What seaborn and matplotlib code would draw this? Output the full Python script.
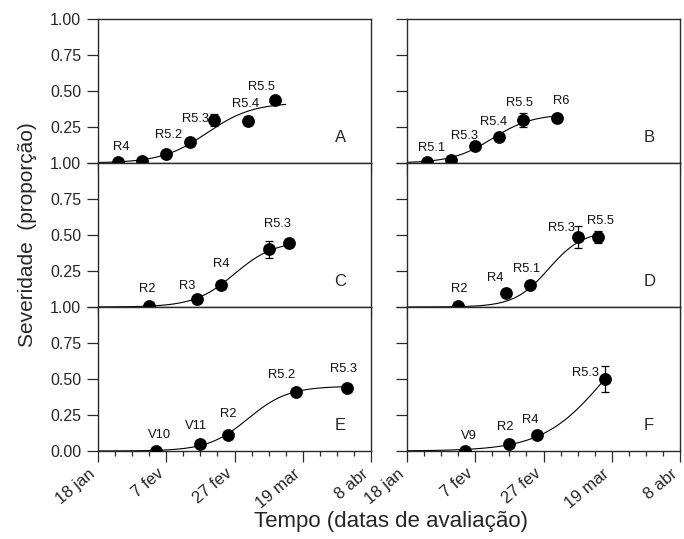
import numpy as np
import pandas as pd
import matplotlib
matplotlib.use("Agg")
import matplotlib.pyplot as plt
import seaborn as sns
from matplotlib.ticker import MultipleLocator

sns.set_style("ticks")
plt.rcParams['font.family'] = ['Liberation Sans', 'DejaVu Sans']

# ---------------- data (days since 18 jan) ----------------
x_tick_labels = ["18 jan", "7 fev", "27 fev", "19 mar", "8 abr"]
y_tick_labels = ["0.00", "0.25", "0.50", "0.75", "1.00"]
panel_letters = ["A", "B", "C", "D", "E", "F"]

days_A = [6, 13, 20, 27, 34, 44, 52]
sev_A = [0.005, 0.012, 0.065, 0.148, 0.297, 0.293, 0.44]
err_A = [0, 0, 0, 0, 0.04, 0.03, 0.01]
stage_A = ["R4", "", "R5.2", "", "R5.3", "R5.4", "R5.5"]

days_B = [6, 13, 20, 27, 34, 44]
sev_B = [0.005, 0.023, 0.116, 0.18, 0.30, 0.314]
err_B = [0, 0, 0, 0, 0.05, 0.02]
stage_B = ["R5.1", "", "R5.3", "R5.4", "R5.5", "R6"]

days_C = [15, 29, 36, 50, 56]
sev_C = [0.01, 0.058, 0.156, 0.40, 0.445]
err_C = [0, 0, 0, 0.06, 0.03]
stage_C = ["R2", "R3", "R4", "R5.3", ""]

days_D = [15, 29, 36, 50, 56]
sev_D = [0.01, 0.10, 0.153, 0.485, 0.485]
err_D = [0, 0, 0, 0.077, 0.04]
stage_D = ["R2", "R4", "R5.1", "R5.3", "R5.5"]

days_E = [17, 30, 38, 58, 73]
sev_E = [0.003, 0.048, 0.11, 0.41, 0.44]
err_E = [0, 0, 0, 0, 0.025]
stage_E = ["V10", "V11", "R2", "R5.2", "R5.3"]

days_F = [17, 30, 38, 58]
sev_F = [0.003, 0.046, 0.113, 0.497]
err_F = [0, 0, 0, 0.09]
stage_F = ["V9", "R2", "R4", "R5.3"]

# fitted logistic model parameters: asymptote K, rate r, inflection t0, end day
fit_K = [0.42, 0.34, 0.46, 0.53, 0.45, 1.0]
fit_r = [0.15, 0.17, 0.17, 0.20, 0.17, 0.11]
fit_t0 = [32, 25, 40, 41.5, 44, 58]
fit_end = [55, 44, 56, 56, 73, 58]

# ---------------- label offsets (screen pixels) ----------------
offs_A = [(2.7, -15.6), None, (2.6, -18.3), None, (-19, -1), (-2.7, -16.7), (-13.6, -12.6)]
offs_B = [(3.7, -14.7), None, (-10.7, -10.7), (-5.7, -14.7), (-3.4, -17), (4, -16.3)]
offs_C = [(-1.6, -17), (-9.7, -12.6), (0, -21), (9, -25), None]
offs_D = [(0.6, -16.6), (-10.4, -15), (-3.3, -16.4), (-16, -9.3), (2.7, -16.3)]
offs_E = [(3.3, -16), (-4.3, -18), (0.4, -20.7), (-14.7, -17), (-3.4, -19)]
offs_F = [(4, -15), (-4.6, -17.6), (-6.7, -14.7), (-19, -6)]

panels = [
    (days_A, sev_A, err_A, stage_A, offs_A),
    (days_B, sev_B, err_B, stage_B, offs_B),
    (days_C, sev_C, err_C, stage_C, offs_C),
    (days_D, sev_D, err_D, stage_D, offs_D),
    (days_E, sev_E, err_E, stage_E, offs_E),
    (days_F, sev_F, err_F, stage_F, offs_F),
]

W, H = 684, 539
fig = plt.figure(figsize=(W / 100, H / 100), dpi=100)

col_x = [98, 407]
ax_w = 273
row_bottom = [376, 232, 88]
ax_h = 144

spine_col = "#2a2a2a"

for i, (days, sev, err, stages, offs) in enumerate(panels):
    row, col = divmod(i, 2)
    ax = fig.add_axes([col_x[col] / W, row_bottom[row] / H, ax_w / W, ax_h / H])

    # fitted curve
    t = np.linspace(0, fit_end[i], 200)
    yfit = fit_K[i] / (1 + np.exp(-fit_r[i] * (t - fit_t0[i])))
    sns.lineplot(x=t, y=yfit, ax=ax, color="black", linewidth=0.8, zorder=2)

    df = pd.DataFrame({"dia": days, "sev": sev, "err": err})
    ax.errorbar(df["dia"], df["sev"], yerr=df["err"], fmt="none", ecolor="black",
                elinewidth=0.9, capsize=3, capthick=0.9, zorder=3)
    sns.scatterplot(data=df, x="dia", y="sev", ax=ax, color="black", s=85,
                    edgecolor="black", linewidth=0, zorder=4, legend=False)

    for d, s, lab, off in zip(days, sev, stages, offs):
        if lab and off is not None:
            ax.annotate(lab, (d, s), xytext=(off[0], -off[1]), textcoords="offset pixels",
                        ha="center", va="center", fontsize=9.3, color="#111111")

    ax.text(0.887, 0.175, panel_letters[i], transform=ax.transAxes, ha="center",
            va="center", fontsize=12)

    ax.set_xlim(0, 80)
    ax.set_ylim(0, 1)
    ax.set_xticks([0, 20, 40, 60, 80])
    ax.xaxis.set_minor_locator(MultipleLocator(5))
    ax.set_yticks([0, 0.25, 0.5, 0.75, 1.0])

    if row == 2:
        ax.set_xticklabels(x_tick_labels, rotation=40, ha="right", va="top", fontsize=12)
    else:
        ax.set_xticklabels([])
    if col == 0:
        labs = list(y_tick_labels)
        if row < 2:
            labs[0] = ""
        ax.set_yticklabels(labs, fontsize=11.5)
    else:
        ax.set_yticklabels([])

    ax.tick_params(axis="y", which="major", direction="out", length=8, width=0.9,
                   color=spine_col, pad=4)
    ax.tick_params(axis="x", which="major", direction="out", length=7.7, width=0.9,
                   color=spine_col, pad=3)
    ax.tick_params(axis="x", which="minor", direction="out", length=3.6, width=0.9,
                   color=spine_col)
    for sp in ax.spines.values():
        sp.set_visible(True)
        sp.set_color(spine_col)
        sp.set_linewidth(1.0)
    ax.set_xlabel("")
    ax.set_ylabel("")
    ax.set_facecolor("white")

fig.text(28 / W, 1 - 235 / H, "Severidade  (proporção)", rotation=90, ha="center",
         va="center", fontsize=15)
fig.text(391 / W, 1 - 522 / H, "Tempo (datas de avaliação)", ha="center", va="center",
         fontsize=16)

fig.savefig("out.png", dpi=100)
